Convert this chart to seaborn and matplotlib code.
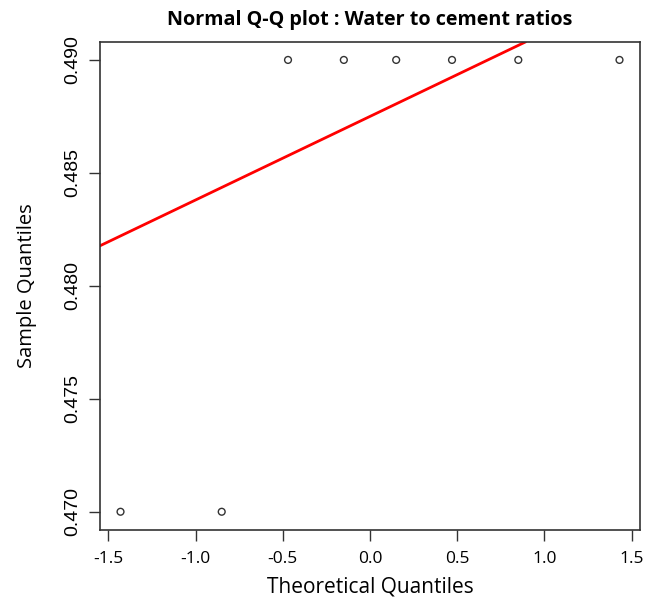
import matplotlib
matplotlib.use("Agg")
import matplotlib.pyplot as plt
import seaborn as sns
import pandas as pd

# theoretical normal quantiles and sorted sample values (water/cement ratios)
theoretical = [-1.43, -0.85, -0.47, -0.15, 0.15, 0.47, 0.85, 1.43]
sample = [0.47, 0.47, 0.49, 0.49, 0.49, 0.49, 0.49, 0.49]
# reference line through the quartiles
line_intercept = 0.4875
line_slope = 0.0037

x_ticks = [-1.5, -1.0, -0.5, 0.0, 0.5, 1.0, 1.5]
y_ticks = [0.470, 0.475, 0.480, 0.485, 0.490]

df = pd.DataFrame({"theoretical": theoretical, "sample": sample})

sns.set_style("white", {"text.color": "black", "axes.labelcolor": "black",
                        "xtick.color": "black", "ytick.color": "black"})
fig = plt.figure(figsize=(6.52, 5.98), dpi=100)
ax = fig.add_axes([0.153, 0.114, 0.829, 0.816])

sns.scatterplot(data=df, x="theoretical", y="sample", ax=ax, s=24,
                facecolor="none", edgecolor="#333333", linewidth=1.0, marker="o")
ax.axline((0, line_intercept), slope=line_slope, color="red", lw=2)

ax.set_xlim(-1.549, 1.549)
ax.set_ylim(0.4692, 0.4908)
ax.set_xticks(x_ticks)
ax.set_xticklabels([f"{t:.1f}" for t in x_ticks], family="Open Sans", fontsize=12.5)
ax.set_yticks(y_ticks)
ax.set_yticklabels([f"{t:.3f}" for t in y_ticks], family="Liberation Sans",
                   fontsize=14, rotation=90, va="center")
ax.tick_params(axis="both", direction="out", length=8, width=1, color="#333333",
               bottom=True, left=True)
ax.tick_params(axis="y", pad=5)
ax.tick_params(axis="x", pad=7)

for sp in ax.spines.values():
    sp.set_color("#333333")
    sp.set_linewidth(1.2)

ax.set_xlabel("Theoretical Quantiles", family="Open Sans", fontsize=15, labelpad=7)
ax.set_ylabel("Sample Quantiles", family="Open Sans", fontsize=14.5, labelpad=20)
ax.set_title("Normal Q-Q plot : Water to cement ratios", family="Open Sans",
             fontweight="bold", fontsize=14.2, pad=12)

fig.savefig("out.png", dpi=100)
